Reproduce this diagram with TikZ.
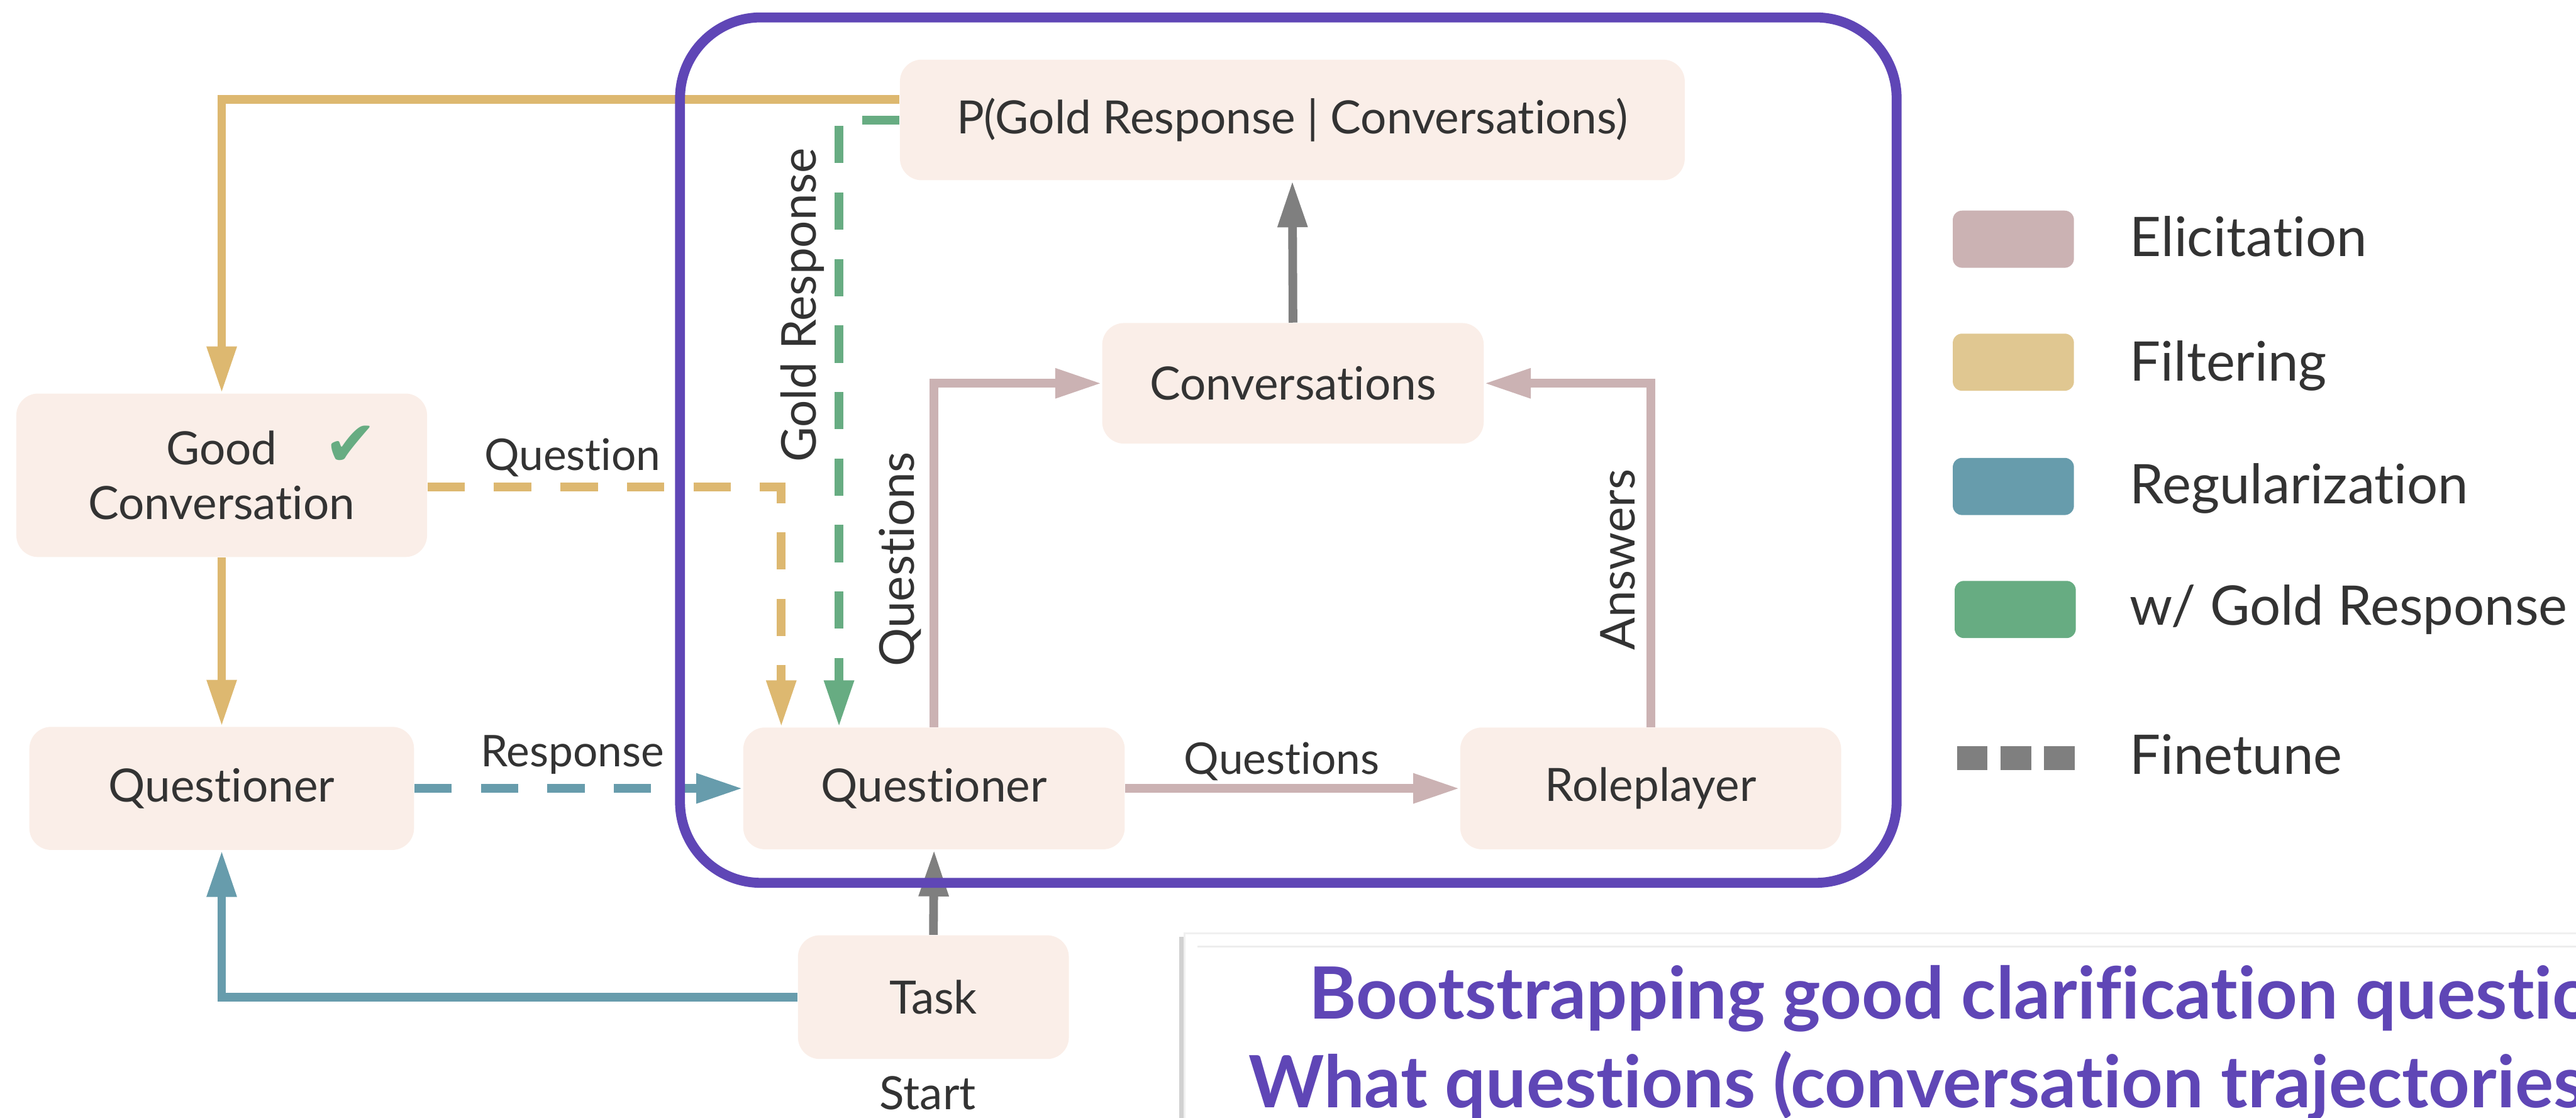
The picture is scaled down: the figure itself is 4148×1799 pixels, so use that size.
\documentclass[tikz,border=0pt]{standalone}
\usepackage{fontspec}
\setmainfont{Lato}[Ligatures={NoCommon}]
\newfontfamily\symfont{DejaVu Sans}
\usetikzlibrary{arrows.meta,calc}

\definecolor{boxfill}{HTML}{FAEEE8}
\definecolor{elic}{HTML}{CBB2B3}
\definecolor{filt}{HTML}{DDB870}
\definecolor{filtsw}{HTML}{E0C791}
\definecolor{regu}{HTML}{679CAC}
\definecolor{goldc}{HTML}{67AC82}
\definecolor{tune}{HTML}{7F7F7F}
\definecolor{loopc}{HTML}{5F46B6}
\definecolor{ink}{HTML}{333333}

\begin{document}
\begin{tikzpicture}[x=0.01cm,y=-0.01cm,
  stage/.style={rectangle, rounded corners=0.35cm, fill=boxfill, inner sep=0,
    text=ink, font=\fontsize{21pt}{25.3pt}\selectfont, align=center},
  flow/.style={line width=0.14cm, -{Triangle[length=0.75cm,width=0.45cm]}},
  tuned/.style={dash pattern=on 0.6cm off 0.47cm},
  elabel/.style={text=ink, font=\fontsize{20pt}{24pt}\selectfont, inner sep=0, anchor=base},
  vlabel/.style={text=ink, font=\fontsize{22pt}{26pt}\selectfont, inner sep=0, anchor=base, rotate=90},
  legtext/.style={text=ink, font=\fontsize{25pt}{30pt}\selectfont, inner sep=0, anchor=base west},
  swatch/.style={rectangle, rounded corners=0.15cm, minimum width=1.95cm, minimum height=0.92cm, inner sep=0},
  tick/.style={rectangle, fill=tune, minimum width=0.49cm, minimum height=0.38cm, inner sep=0},
  headline/.style={text=loopc, font=\bfseries\fontsize{33pt}{38pt}\selectfont, inner sep=0, anchor=base west}
]
\path[use as bounding box, clip] (0,0) rectangle (4148,1799);

% slide panel in the lower right
\fill[black!18] (1899,1508) rectangle (1907,1850);
\draw[black!6, line width=0.03cm, fill=white] (1907,1502) rectangle (4300,1850);
\draw[black!7, line width=0.03cm] (1928,1524) -- (4300,1524);
\node[headline] (title1) at (2107,1640) {Bootstrapping good clarification questions};
\node[headline] (title2) at (2010,1783) {What questions (conversation trajectories};

% stages
\node[stage, minimum width=12.63cm, minimum height=1.94cm] (pgr) at (2081,193) {P(Gold Response | Conversations)};
\node[stage, minimum width=6.14cm, minimum height=1.94cm] (conv) at (2082,617) {Conversations};
\node[stage, minimum width=6.14cm, minimum height=1.96cm] (qin) at (1504,1269) {Questioner};
\node[stage, minimum width=6.13cm, minimum height=1.96cm] (role) at (2658,1269) {Roleplayer};
\node[stage, minimum width=4.36cm, minimum height=1.99cm] (task) at (1503,1605) {Task};
\node[stage, minimum width=6.19cm, minimum height=1.98cm] (qout) at (357,1269) {Questioner};
\node[stage, minimum width=6.61cm, minimum height=2.63cm] (good) at (357,765) {Good\\Conversation};
\node[text=goldc, font=\symfont\fontsize{29pt}{32pt}\selectfont, inner sep=0] (check) at (565,718) {✔};
\node[text=ink, font=\fontsize{21pt}{25pt}\selectfont, inner sep=0, anchor=base] (start) at (1494,1786) {Start};

% filtering
\draw[flow, filt] ($(pgr.west)+(0,-33)$) -| (good.north);
\draw[flow, filt] (good.south) -- (qout.north);
\draw[flow, filt, tuned] ($(good.east)+(0,19)$) -| ($(qin.north)+(-246,0)$);
% gold response
\draw[flow, goldc, tuned] (pgr.west) -| ($(qin.north)+(-153,0)$);
% regularization
\draw[flow, regu, tuned] (qout.east) -- (qin.west);
\draw[flow, regu] (task.west) -| (qout.south);
% finetune
\draw[flow, tune] (task.north) -- (qin.south);
\draw[flow, tune] (conv.north) -- (pgr.south);
% elicitation
\draw[flow, elic] (qin.east) -- (role.west);
\draw[flow, elic] (qin.north) |- (conv.west);
\draw[flow, elic] (role.north) |- (conv.east);

% connector labels
\node[elabel] (lq) at (922,757) {Question};
\node[elabel] (lr) at (922,1234) {Response};
\node[elabel] (lqs) at (2064,1246) {Questions};
\node[vlabel] (lg) at (1314,491) {Gold Response};
\node[vlabel] (lqv) at (1472,900) {Questions};
\node[vlabel] (la) at (2632,901) {Answers};

% inner loop frame
\draw[loopc, line width=0.16cm, rounded corners=1.3cm] (1095,28) rectangle (3054,1421);

% legend
\node[swatch, fill=elic] (sw1) at (3242,385) {};
\node[swatch, fill=filtsw] (sw2) at (3242,583) {};
\node[swatch, fill=regu] (sw3) at (3242,783) {};
\node[swatch, fill=goldc] (sw4) at (3245,981) {};
\node[tick] (ft1) at (3176,1220) {};
\node[tick] (ft2) at (3246,1220) {};
\node[tick] (ft3) at (3316,1220) {};
\node[legtext] (lt1) at (3429,413) {Elicitation};
\node[legtext] (lt2) at (3429,613) {Filtering};
\node[legtext] (lt3) at (3429,811) {Regularization};
\node[legtext] (lt4) at (3429,1006) {w/ Gold Response};
\node[legtext] (lt5) at (3429,1246) {Finetune};
\end{tikzpicture}
\end{document}
